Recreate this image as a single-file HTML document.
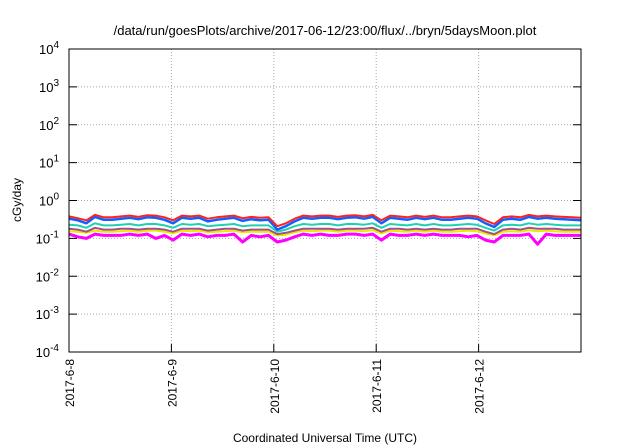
<!DOCTYPE html>
<html><head><meta charset="utf-8"><style>
body{margin:0;background:#fff;}
svg{display:block;font-family:"Liberation Sans",sans-serif;}
</style></head><body>
<svg id="c" width="640" height="448">
<text x="325" y="35" font-size="13" text-anchor="middle" fill="#000">/data/run/goesPlots/archive/2017-06-12/23:00/flux/../bryn/5daysMoon.plot</text>
<g id="grid"></g>
<g id="series"></g>
<rect x="69" y="49" width="512" height="303" fill="none" stroke="#000" stroke-width="1"/>
<g id="axes"></g>
<text transform="translate(21,200) rotate(-90)" font-size="12" text-anchor="middle">cGy/day</text>
<text x="325" y="442" font-size="12" text-anchor="middle">Coordinated Universal Time (UTC)</text>
</svg>
<script>
const dayLabels=["2017-6-8","2017-6-9","2017-6-10","2017-6-11","2017-6-12"];
const yExps=[-4,-3,-2,-1,0,1,2,3,4];
const red=[0.38,0.34,0.30,0.42,0.36,0.36,0.38,0.40,0.37,0.41,0.40,0.36,0.30,0.40,0.38,0.40,0.33,0.36,0.38,0.40,0.34,0.37,0.35,0.36,0.21,0.25,0.33,0.40,0.38,0.40,0.40,0.37,0.40,0.41,0.38,0.42,0.30,0.40,0.38,0.36,0.40,0.37,0.40,0.36,0.36,0.38,0.40,0.38,0.30,0.24,0.36,0.38,0.36,0.42,0.38,0.40,0.38,0.37,0.36,0.35];
const blue=[0.33,0.30,0.25,0.37,0.31,0.31,0.33,0.35,0.32,0.36,0.35,0.31,0.25,0.35,0.33,0.35,0.28,0.31,0.33,0.35,0.29,0.32,0.30,0.31,0.17,0.21,0.28,0.35,0.33,0.35,0.35,0.32,0.35,0.36,0.33,0.37,0.25,0.35,0.33,0.31,0.35,0.32,0.35,0.31,0.31,0.33,0.35,0.33,0.25,0.20,0.31,0.33,0.31,0.37,0.33,0.35,0.33,0.32,0.31,0.30];
const teal=[0.23,0.22,0.19,0.25,0.22,0.22,0.23,0.24,0.22,0.24,0.24,0.22,0.19,0.24,0.23,0.24,0.21,0.22,0.23,0.24,0.21,0.22,0.22,0.22,0.15,0.17,0.21,0.24,0.23,0.24,0.24,0.22,0.24,0.24,0.23,0.25,0.19,0.24,0.23,0.22,0.24,0.22,0.24,0.22,0.22,0.23,0.24,0.23,0.19,0.16,0.22,0.23,0.22,0.25,0.23,0.24,0.23,0.22,0.22,0.22];
const purple=[0.18,0.17,0.15,0.19,0.17,0.17,0.18,0.18,0.17,0.18,0.18,0.17,0.15,0.18,0.18,0.18,0.16,0.17,0.18,0.18,0.16,0.17,0.17,0.17,0.13,0.14,0.16,0.18,0.18,0.18,0.18,0.17,0.18,0.18,0.18,0.19,0.15,0.18,0.18,0.17,0.18,0.17,0.18,0.17,0.17,0.18,0.18,0.18,0.15,0.13,0.17,0.18,0.17,0.19,0.18,0.18,0.18,0.17,0.17,0.17];
const yellow=[0.155,0.15,0.14,0.16,0.15,0.15,0.155,0.16,0.15,0.16,0.16,0.15,0.135,0.16,0.155,0.16,0.145,0.15,0.155,0.16,0.145,0.15,0.15,0.15,0.12,0.125,0.145,0.16,0.155,0.16,0.16,0.15,0.16,0.16,0.155,0.165,0.135,0.16,0.155,0.15,0.16,0.15,0.16,0.15,0.15,0.155,0.16,0.155,0.135,0.12,0.15,0.155,0.15,0.165,0.155,0.16,0.155,0.15,0.15,0.15];
const magenta=[0.13,0.11,0.10,0.13,0.12,0.12,0.12,0.13,0.12,0.13,0.10,0.12,0.09,0.13,0.12,0.13,0.11,0.12,0.12,0.13,0.08,0.12,0.11,0.12,0.08,0.09,0.11,0.13,0.12,0.13,0.12,0.12,0.13,0.13,0.12,0.13,0.09,0.13,0.12,0.12,0.13,0.12,0.13,0.12,0.12,0.12,0.11,0.12,0.09,0.08,0.12,0.12,0.12,0.13,0.07,0.13,0.12,0.12,0.12,0.12];
const L=69,R=581,T=49,B=352,NS="http://www.w3.org/2000/svg";
const xs=i=>L+(R-L)*i/(red.length-1);
const ys=v=>B-(Math.log10(v)+4)*(B-T)/8;
const xd=d=>L+(R-L)*d/5;
function mk(tag,attrs,parent){const e=document.createElementNS(NS,tag);for(const k in attrs)e.setAttribute(k,attrs[k]);parent.appendChild(e);return e;}
const grid=document.getElementById('grid'),axes=document.getElementById('axes'),ser=document.getElementById('series');
yExps.forEach(p=>{const y=ys(Math.pow(10,p));
 if(p>-4&&p<4){const g=mk('line',{x1:L,x2:R,y1:y,y2:y,stroke:'#aaa','stroke-dasharray':'1,2','stroke-width':1},grid);
 
 }
 const t1=mk('line',{x1:L,x2:L+8,y1:y,y2:y,stroke:'#000'},axes);
 
 
 const t2=mk('line',{x1:R,x2:R-8,y1:y,y2:y,stroke:'#000'},axes);
 
 
 const tx=mk('text',{x:L-10,y:y+5,'font-size':13,'text-anchor':'end'},axes);
 
 
 tx.innerHTML='10<tspan dy="-6" font-size="10">'+p+'</tspan>';
});
dayLabels.forEach((d,i)=>{const x=xd(i);
 if(i>0){const g=mk('line',{x1:x,x2:x,y1:T,y2:B,stroke:'#aaa','stroke-dasharray':'1,2'},grid);
 
 }
 const t=mk('line',{x1:x,x2:x,y1:B,y2:B-8,stroke:'#000'},axes);
 
 
 const tx=mk('text',{transform:`translate(${x+5},${B+7}) rotate(-90)`,'font-size':12,'text-anchor':'end'},axes);
 
 
 tx.textContent=d;
});
[[magenta,'#ff00ff',3,'magenta-series'],[yellow,'#e8e800',2,'yellow-series'],[purple,'#a0508c',2,'purple-series'],[teal,'#20d0b0',2,'teal-series'],[blue,'#1060ff',2.5,'blue-series'],[red,'#ff2020',2,'red-series']].forEach(([arr,c,w,n])=>{
 const pts=arr.map((v,i)=>xs(i).toFixed(1)+','+ys(v).toFixed(1)).join(' ');
 const p=mk('polyline',{points:pts,fill:'none',stroke:c,'stroke-width':w,'stroke-linejoin':'round'},ser);
 
 
});
</script>
</body></html>
